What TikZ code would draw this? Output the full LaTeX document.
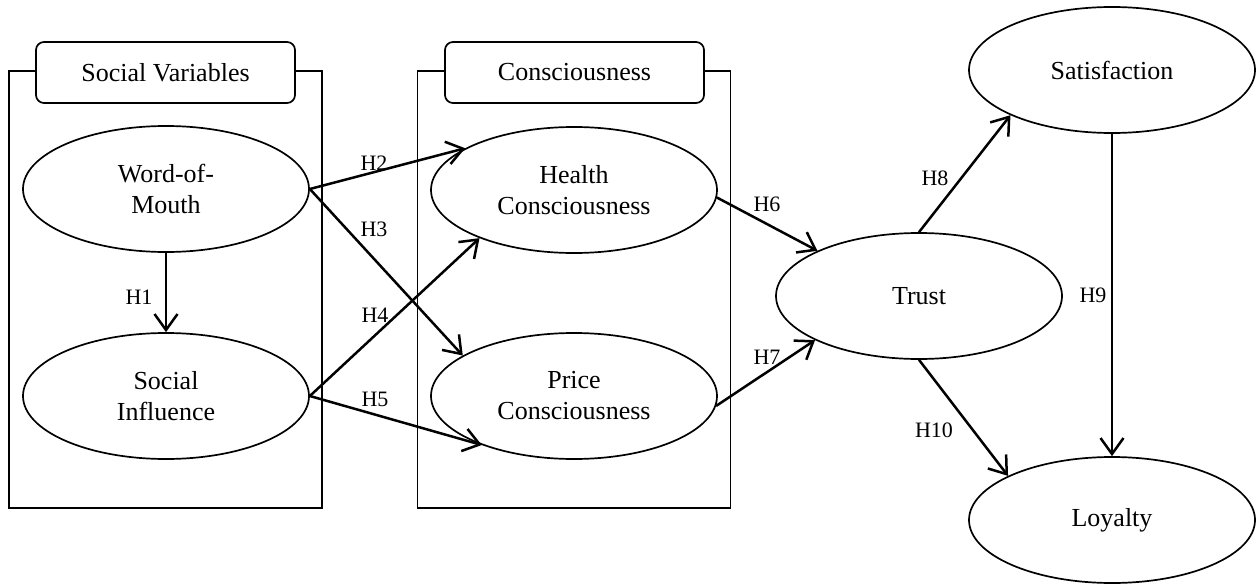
\documentclass[tikz,border=0pt]{standalone}
\usepackage{fontspec}
\setmainfont{Liberation Serif}
\usetikzlibrary{shapes.geometric,arrows.meta}
\tikzset{
  construct/.style={draw, ellipse, line width=1.7pt, minimum width=286pt, minimum height=126pt, inner sep=0pt, align=center, font=\fontsize{26}{31}\selectfont},
  group/.style={draw, line width=1.7pt, minimum width=313pt, minimum height=437pt, inner sep=0pt},
  grouplabel/.style={draw, fill=white, rounded corners=8pt, line width=1.7pt, minimum width=259pt, minimum height=61pt, inner sep=0pt, font=\fontsize{26}{31}\selectfont},
  path/.style={line width=2.5pt, -{Straight Barb[length=16pt,width=23pt,line width=2.5pt]}},
  hyp/.style={font=\fontsize{22}{26}\selectfont, inner sep=0pt}
}
\begin{document}
\begin{tikzpicture}[x=1pt,y=-1pt]
\useasboundingbox (0,0) rectangle (1258,586);
\fill[white] (0,0) rectangle (1258,586);
% groups
\node[group] (g1) at (165.5,289.5) {};
\node[group] (g2) at (574,289.5) {};
\node[grouplabel] (l1) at (165.5,72.5) {Social Variables};
\node[grouplabel] (l2) at (574.5,72.5) {Consciousness};
% constructs
\node[construct] (wom) at (166,189) {Word-of-\\Mouth};
\node[construct] (si) at (166,396) {Social\\Influence};
\node[construct] (hc) at (574,190) {Health\\Consciousness};
\node[construct] (pc) at (574,396) {Price\\Consciousness};
\node[construct] (tr) at (919,296) {Trust};
\node[construct] (sa) at (1112,70) {Satisfaction};
\node[construct] (lo) at (1112,520) {Loyalty};
% paths
\draw[path] (wom.south) -- (si.north);
\draw[path] (wom.east) -- (hc.159.6);
\draw[path] (wom.east) -- (pc.160);
\draw[path] (si.east) -- (hc.207);
\draw[path] (si.east) -- (pc.208);
\draw[path] (hc.-3) -- (tr.156);
\draw[path] (pc.-4) -- (tr.203);
\draw[path] (tr.north) -- (sa.204);
\draw[path] (sa.south) -- (lo.north);
\draw[path] (tr.south) -- (lo.157);
% labels
\node[hyp] (h1) at (139,297) {H1};
\node[hyp] (h2) at (374,163) {H2};
\node[hyp] (h3) at (374,229) {H3};
\node[hyp] (h4) at (375,315) {H4};
\node[hyp] (h5) at (375,399) {H5};
\node[hyp] (h6) at (767,204) {H6};
\node[hyp] (h7) at (767,357) {H7};
\node[hyp] (h8) at (935,178) {H8};
\node[hyp] (h9) at (1093,295) {H9};
\node[hyp] (h10) at (934,430) {H10};
\end{tikzpicture}
\end{document}
